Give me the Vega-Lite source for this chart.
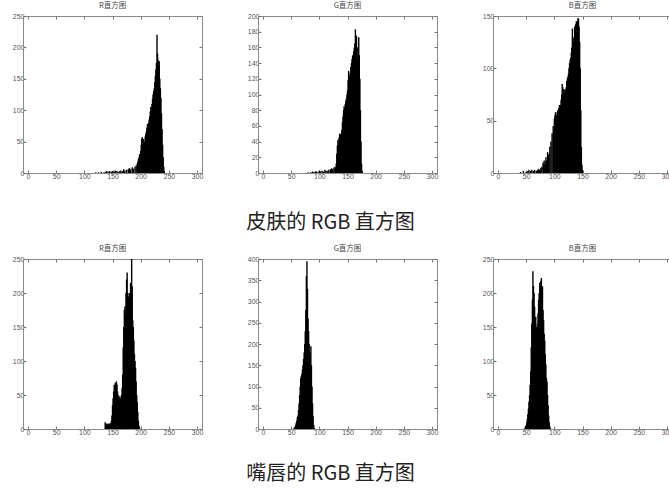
{
  "$schema": "https://vega.github.io/schema/vega-lite/v6.json",
  "autosize": {"type": "pad"},
  "padding": {"left": 11, "top": 1, "right": 0, "bottom": 0},
  "background": "white",
  "columns": 3,
  "bounds": "flush",
  "spacing": {"row": 86, "column": 56},
  "config": {
    "view": {"stroke": "#8a8a8a", "strokeWidth": 1},
    "axis": {"labelFont": "Liberation Sans", "labelFontSize": 7, "labelColor": "#555", "tickColor": "#777", "domainColor": "#8a8a8a", "tickSize": -3, "grid": false, "labelPadding": 2},
    "title": {"font": "Noto Sans CJK SC", "fontSize": 7.5, "fontWeight": "normal", "color": "#444", "offset": 3},
    "bar": {"color": "black"}
  },
  "datasets": {
    "skinR": [{"v":120,"c":1},{"v":125,"c":1},{"v":130,"c":2},{"v":135,"c":1},{"v":138,"c":2},{"v":140,"c":3},{"v":143,"c":2},{"v":145,"c":3},{"v":148,"c":2},{"v":150,"c":3},{"v":153,"c":2},{"v":155,"c":4},{"v":158,"c":3},{"v":160,"c":2},{"v":163,"c":3},{"v":165,"c":4},{"v":168,"c":3},{"v":170,"c":6},{"v":172,"c":4},{"v":175,"c":5},{"v":178,"c":6},{"v":180,"c":8},{"v":182,"c":6},{"v":185,"c":9},{"v":187,"c":7},{"v":190,"c":10},{"v":192,"c":12},{"v":194,"c":15},{"v":195,"c":18},{"v":196,"c":22},{"v":197,"c":25},{"v":198,"c":30},{"v":199,"c":28},{"v":200,"c":35},{"v":201,"c":45},{"v":202,"c":55},{"v":203,"c":57},{"v":204,"c":52},{"v":205,"c":54},{"v":206,"c":48},{"v":207,"c":50},{"v":208,"c":58},{"v":209,"c":62},{"v":210,"c":66},{"v":211,"c":72},{"v":212,"c":78},{"v":213,"c":75},{"v":214,"c":80},{"v":215,"c":85},{"v":216,"c":90},{"v":217,"c":98},{"v":218,"c":105},{"v":219,"c":100},{"v":220,"c":110},{"v":221,"c":118},{"v":222,"c":125},{"v":223,"c":130},{"v":224,"c":135},{"v":225,"c":145},{"v":226,"c":155},{"v":227,"c":165},{"v":228,"c":175},{"v":229,"c":220},{"v":230,"c":190},{"v":231,"c":180},{"v":232,"c":170},{"v":233,"c":178},{"v":234,"c":150},{"v":235,"c":135},{"v":236,"c":120},{"v":237,"c":95},{"v":238,"c":70},{"v":239,"c":45},{"v":240,"c":25},{"v":241,"c":10},{"v":242,"c":3}],
    "skinG": [{"v":80,"c":1},{"v":85,"c":1},{"v":88,"c":2},{"v":90,"c":1},{"v":93,"c":2},{"v":95,"c":2},{"v":98,"c":1},{"v":100,"c":3},{"v":102,"c":2},{"v":105,"c":3},{"v":107,"c":2},{"v":110,"c":4},{"v":112,"c":3},{"v":115,"c":3},{"v":117,"c":4},{"v":120,"c":5},{"v":122,"c":6},{"v":124,"c":5},{"v":126,"c":7},{"v":128,"c":8},{"v":129,"c":6},{"v":130,"c":12},{"v":131,"c":25},{"v":132,"c":35},{"v":133,"c":42},{"v":134,"c":38},{"v":135,"c":45},{"v":136,"c":50},{"v":137,"c":48},{"v":138,"c":50},{"v":139,"c":49},{"v":140,"c":55},{"v":141,"c":65},{"v":142,"c":72},{"v":143,"c":80},{"v":144,"c":85},{"v":145,"c":82},{"v":146,"c":88},{"v":147,"c":92},{"v":148,"c":95},{"v":149,"c":100},{"v":150,"c":105},{"v":151,"c":118},{"v":152,"c":130},{"v":153,"c":125},{"v":154,"c":120},{"v":155,"c":128},{"v":156,"c":135},{"v":157,"c":140},{"v":158,"c":145},{"v":159,"c":150},{"v":160,"c":148},{"v":161,"c":155},{"v":162,"c":160},{"v":163,"c":165},{"v":164,"c":183},{"v":165,"c":170},{"v":166,"c":175},{"v":167,"c":160},{"v":168,"c":145},{"v":169,"c":160},{"v":170,"c":173},{"v":171,"c":150},{"v":172,"c":120},{"v":173,"c":80},{"v":174,"c":40},{"v":175,"c":12},{"v":176,"c":3}],
    "skinB": [{"v":40,"c":1},{"v":45,"c":2},{"v":50,"c":1},{"v":53,"c":2},{"v":55,"c":3},{"v":58,"c":2},{"v":60,"c":3},{"v":63,"c":2},{"v":65,"c":3},{"v":68,"c":2},{"v":70,"c":3},{"v":72,"c":4},{"v":74,"c":3},{"v":76,"c":5},{"v":78,"c":6},{"v":80,"c":10},{"v":81,"c":8},{"v":82,"c":12},{"v":84,"c":8},{"v":85,"c":15},{"v":86,"c":12},{"v":88,"c":20},{"v":90,"c":18},{"v":92,"c":25},{"v":94,"c":30},{"v":96,"c":38},{"v":98,"c":45},{"v":99,"c":40},{"v":100,"c":52},{"v":101,"c":55},{"v":102,"c":58},{"v":103,"c":50},{"v":104,"c":55},{"v":105,"c":58},{"v":106,"c":60},{"v":107,"c":55},{"v":108,"c":62},{"v":109,"c":65},{"v":110,"c":58},{"v":111,"c":65},{"v":112,"c":70},{"v":113,"c":75},{"v":114,"c":85},{"v":115,"c":82},{"v":116,"c":78},{"v":117,"c":80},{"v":118,"c":76},{"v":119,"c":80},{"v":120,"c":78},{"v":121,"c":82},{"v":122,"c":88},{"v":123,"c":90},{"v":124,"c":92},{"v":125,"c":95},{"v":126,"c":100},{"v":127,"c":105},{"v":128,"c":108},{"v":129,"c":110},{"v":130,"c":115},{"v":131,"c":120},{"v":132,"c":138},{"v":133,"c":128},{"v":134,"c":125},{"v":135,"c":130},{"v":136,"c":140},{"v":137,"c":135},{"v":138,"c":142},{"v":139,"c":145},{"v":140,"c":140},{"v":141,"c":145},{"v":142,"c":148},{"v":143,"c":147},{"v":144,"c":140},{"v":145,"c":125},{"v":146,"c":100},{"v":147,"c":60},{"v":148,"c":25},{"v":149,"c":8},{"v":150,"c":3}],
    "lipR": [{"v":137,"c":10},{"v":138,"c":8},{"v":139,"c":6},{"v":140,"c":7},{"v":141,"c":8},{"v":142,"c":6},{"v":143,"c":7},{"v":144,"c":8},{"v":145,"c":7},{"v":146,"c":8},{"v":147,"c":9},{"v":148,"c":12},{"v":149,"c":20},{"v":150,"c":35},{"v":151,"c":45},{"v":152,"c":55},{"v":153,"c":65},{"v":154,"c":62},{"v":155,"c":68},{"v":156,"c":60},{"v":157,"c":70},{"v":158,"c":65},{"v":159,"c":55},{"v":160,"c":50},{"v":161,"c":45},{"v":162,"c":42},{"v":163,"c":48},{"v":164,"c":45},{"v":165,"c":40},{"v":166,"c":50},{"v":167,"c":60},{"v":168,"c":80},{"v":169,"c":120},{"v":170,"c":150},{"v":171,"c":175},{"v":172,"c":180},{"v":173,"c":170},{"v":174,"c":200},{"v":175,"c":220},{"v":176,"c":230},{"v":177,"c":200},{"v":178,"c":195},{"v":179,"c":190},{"v":180,"c":200},{"v":181,"c":195},{"v":182,"c":215},{"v":183,"c":200},{"v":184,"c":250},{"v":185,"c":210},{"v":186,"c":160},{"v":187,"c":150},{"v":188,"c":130},{"v":189,"c":110},{"v":190,"c":100},{"v":191,"c":90},{"v":192,"c":70},{"v":193,"c":50},{"v":194,"c":40},{"v":195,"c":25},{"v":196,"c":12},{"v":197,"c":5},{"v":198,"c":2}],
    "lipG": [{"v":55,"c":2},{"v":56,"c":4},{"v":57,"c":6},{"v":58,"c":10},{"v":59,"c":15},{"v":60,"c":20},{"v":61,"c":28},{"v":62,"c":32},{"v":63,"c":45},{"v":64,"c":60},{"v":65,"c":80},{"v":66,"c":100},{"v":67,"c":120},{"v":68,"c":125},{"v":69,"c":130},{"v":70,"c":140},{"v":71,"c":150},{"v":72,"c":165},{"v":73,"c":180},{"v":74,"c":200},{"v":75,"c":230},{"v":76,"c":280},{"v":77,"c":360},{"v":78,"c":395},{"v":79,"c":330},{"v":80,"c":260},{"v":81,"c":230},{"v":82,"c":200},{"v":83,"c":180},{"v":84,"c":170},{"v":85,"c":195},{"v":86,"c":150},{"v":87,"c":100},{"v":88,"c":60},{"v":89,"c":30},{"v":90,"c":10},{"v":91,"c":3}],
    "lipB": [{"v":48,"c":2},{"v":49,"c":4},{"v":50,"c":6},{"v":51,"c":10},{"v":52,"c":15},{"v":53,"c":22},{"v":54,"c":30},{"v":55,"c":40},{"v":56,"c":50},{"v":57,"c":65},{"v":58,"c":85},{"v":59,"c":120},{"v":60,"c":155},{"v":61,"c":190},{"v":62,"c":232},{"v":63,"c":210},{"v":64,"c":200},{"v":65,"c":180},{"v":66,"c":160},{"v":67,"c":165},{"v":68,"c":150},{"v":69,"c":145},{"v":70,"c":155},{"v":71,"c":170},{"v":72,"c":190},{"v":73,"c":200},{"v":74,"c":215},{"v":75,"c":210},{"v":76,"c":218},{"v":77,"c":222},{"v":78,"c":205},{"v":79,"c":210},{"v":80,"c":175},{"v":81,"c":160},{"v":82,"c":140},{"v":83,"c":130},{"v":84,"c":110},{"v":85,"c":95},{"v":86,"c":75},{"v":87,"c":70},{"v":88,"c":50},{"v":89,"c":35},{"v":90,"c":20},{"v":91,"c":10},{"v":92,"c":4},{"v":93,"c":1}]
  },
  "concat": [
    {
      "width": 179, "height": 157,
      "title": "R直方图",
      "data": {"name": "skinR"},
      "layer": [
        {"mark": {"type": "bar", "size": 1.4, "color": "black"},
         "encoding": {
           "x": {"field": "v", "type": "quantitative", "scale": {"domain": [0, 300], "nice": false}, "axis": {"title": null, "values": [0,50,100,150,200,250,300]}},
           "y": {"field": "c", "type": "quantitative", "scale": {"domain": [0, 250], "nice": false}, "axis": {"title": null, "values": [0,50,100,150,200,250]}}}},
        {"mark": {"type": "bar", "size": 1, "opacity": 0},
         "encoding": {
           "x": {"field": "v", "type": "quantitative", "axis": {"orient": "top", "labels": false, "domain": false, "title": null, "values": [0,50,100,150,200,250,300]}},
           "y": {"field": "c", "type": "quantitative", "axis": {"orient": "right", "labels": false, "domain": false, "title": null, "values": [0,50,100,150,200,250]}}}}
      ],
      "resolve": {"axis": {"x": "independent", "y": "independent"}}
    },
    {
      "width": 179, "height": 157,
      "title": "G直方图",
      "data": {"name": "skinG"},
      "layer": [
        {"mark": {"type": "bar", "size": 1.4, "color": "black"},
         "encoding": {
           "x": {"field": "v", "type": "quantitative", "scale": {"domain": [0, 300], "nice": false}, "axis": {"title": "皮肤的 RGB 直方图", "values": [0,50,100,150,200,250,300], "titleFont": "Noto Sans CJK SC", "titleFontSize": 20, "titleFontWeight": "normal", "titleColor": "#222", "titleAlign": "center", "titleBaseline": "middle", "titleX": 72, "titleY": 49}},
           "y": {"field": "c", "type": "quantitative", "scale": {"domain": [0, 200], "nice": false}, "axis": {"title": null, "values": [0,20,40,60,80,100,120,140,160,180,200]}}}},
        {"mark": {"type": "bar", "size": 1, "opacity": 0},
         "encoding": {
           "x": {"field": "v", "type": "quantitative", "axis": {"orient": "top", "labels": false, "domain": false, "title": null, "values": [0,50,100,150,200,250,300]}},
           "y": {"field": "c", "type": "quantitative", "axis": {"orient": "right", "labels": false, "domain": false, "title": null, "values": [0,20,40,60,80,100,120,140,160,180,200]}}}}
      ],
      "resolve": {"axis": {"x": "independent", "y": "independent"}}
    },
    {
      "width": 179, "height": 157,
      "title": "B直方图",
      "data": {"name": "skinB"},
      "layer": [
        {"mark": {"type": "bar", "size": 1.4, "color": "black"},
         "encoding": {
           "x": {"field": "v", "type": "quantitative", "scale": {"domain": [0, 300], "nice": false}, "axis": {"title": null, "values": [0,50,100,150,200,250,300]}},
           "y": {"field": "c", "type": "quantitative", "scale": {"domain": [0, 150], "nice": false}, "axis": {"title": null, "values": [0,50,100,150]}}}},
        {"mark": {"type": "bar", "size": 1, "opacity": 0},
         "encoding": {
           "x": {"field": "v", "type": "quantitative", "axis": {"orient": "top", "labels": false, "domain": false, "title": null, "values": [0,50,100,150,200,250,300]}},
           "y": {"field": "c", "type": "quantitative", "axis": {"orient": "right", "labels": false, "domain": false, "title": null, "values": [0,50,100,150]}}}}
      ],
      "resolve": {"axis": {"x": "independent", "y": "independent"}}
    },
    {
      "width": 179, "height": 170,
      "title": "R直方图",
      "data": {"name": "lipR"},
      "layer": [
        {"mark": {"type": "bar", "size": 1.4, "color": "black"},
         "encoding": {
           "x": {"field": "v", "type": "quantitative", "scale": {"domain": [0, 300], "nice": false}, "axis": {"title": null, "values": [0,50,100,150,200,250,300]}},
           "y": {"field": "c", "type": "quantitative", "scale": {"domain": [0, 250], "nice": false}, "axis": {"title": null, "values": [0,50,100,150,200,250]}}}},
        {"mark": {"type": "bar", "size": 1, "opacity": 0},
         "encoding": {
           "x": {"field": "v", "type": "quantitative", "axis": {"orient": "top", "labels": false, "domain": false, "title": null, "values": [0,50,100,150,200,250,300]}},
           "y": {"field": "c", "type": "quantitative", "axis": {"orient": "right", "labels": false, "domain": false, "title": null, "values": [0,50,100,150,200,250]}}}}
      ],
      "resolve": {"axis": {"x": "independent", "y": "independent"}}
    },
    {
      "width": 179, "height": 170,
      "title": "G直方图",
      "data": {"name": "lipG"},
      "layer": [
        {"mark": {"type": "bar", "size": 1.4, "color": "black"},
         "encoding": {
           "x": {"field": "v", "type": "quantitative", "scale": {"domain": [0, 300], "nice": false}, "axis": {"title": "嘴唇的 RGB 直方图", "values": [0,50,100,150,200,250,300], "titleFont": "Noto Sans CJK SC", "titleFontSize": 20, "titleFontWeight": "normal", "titleColor": "#222", "titleAlign": "center", "titleBaseline": "middle", "titleX": 72, "titleY": 44}},
           "y": {"field": "c", "type": "quantitative", "scale": {"domain": [0, 400], "nice": false}, "axis": {"title": null, "values": [0,50,100,150,200,250,300,350,400]}}}},
        {"mark": {"type": "bar", "size": 1, "opacity": 0},
         "encoding": {
           "x": {"field": "v", "type": "quantitative", "axis": {"orient": "top", "labels": false, "domain": false, "title": null, "values": [0,50,100,150,200,250,300]}},
           "y": {"field": "c", "type": "quantitative", "axis": {"orient": "right", "labels": false, "domain": false, "title": null, "values": [0,50,100,150,200,250,300,350,400]}}}}
      ],
      "resolve": {"axis": {"x": "independent", "y": "independent"}}
    },
    {
      "width": 179, "height": 170,
      "title": "B直方图",
      "data": {"name": "lipB"},
      "layer": [
        {"mark": {"type": "bar", "size": 1.4, "color": "black"},
         "encoding": {
           "x": {"field": "v", "type": "quantitative", "scale": {"domain": [0, 300], "nice": false}, "axis": {"title": null, "values": [0,50,100,150,200,250,300]}},
           "y": {"field": "c", "type": "quantitative", "scale": {"domain": [0, 250], "nice": false}, "axis": {"title": null, "values": [0,50,100,150,200,250]}}}},
        {"mark": {"type": "bar", "size": 1, "opacity": 0},
         "encoding": {
           "x": {"field": "v", "type": "quantitative", "axis": {"orient": "top", "labels": false, "domain": false, "title": null, "values": [0,50,100,150,200,250,300]}},
           "y": {"field": "c", "type": "quantitative", "axis": {"orient": "right", "labels": false, "domain": false, "title": null, "values": [0,50,100,150,200,250]}}}}
      ],
      "resolve": {"axis": {"x": "independent", "y": "independent"}}
    }
  ]
}
